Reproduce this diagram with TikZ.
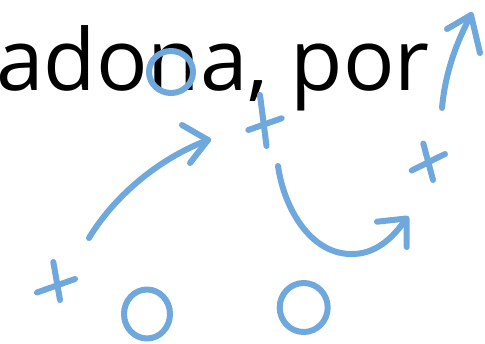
\documentclass[tikz,border=0pt]{standalone}
\usepackage{fontspec}
\setmainfont{Open Sans}
\definecolor{chalk}{HTML}{6FA8DC}
\tikzset{
  stroke/.style={draw=chalk, line width=6pt, line cap=round, line join=round},
}
\begin{document}
\begin{tikzpicture}[x=1pt,y=-1pt]
\useasboundingbox (0,0) rectangle (485,343);
% text
\node[anchor=base west, inner sep=0pt, font=\fontsize{85.5}{100}\selectfont] (txt) at (-4,90) {adona, por};
% circles
\draw[stroke] (171,72) ellipse (22 and 21);
\draw[stroke] (147,314) ellipse (23 and 24.5);
\draw[stroke] (303.7,307.5) ellipse (24 and 24.5);
% crosses
\draw[stroke] (53.3,262) -- (60,300) (37,292.5) -- (75,279);
\draw[stroke] (260,95) -- (266.5,146) (248.3,130) -- (281.7,118.3);
\draw[stroke] (423.3,143.5) -- (433,180) (411.7,170.5) -- (445,154);
% arrow 1
\draw[stroke] (89,238) .. controls (115,195) and (160,158) .. (208,140);
\draw[stroke] (182,125) -- (208,140) -- (190,163);
% arrow 2
\draw[stroke] (278,166) .. controls (284,208) and (310,253) .. (350,254)
              .. controls (375,255) and (393,238) .. (406,219);
\draw[stroke] (377,221.7) -- (406.5,218.5) -- (406.7,247);
% arrow 3
\draw[stroke] (442,108) .. controls (445,75) and (455,45) .. (471,15);
\draw[stroke] (447,29) -- (471,15) -- (480,53);
\end{tikzpicture}
\end{document}
